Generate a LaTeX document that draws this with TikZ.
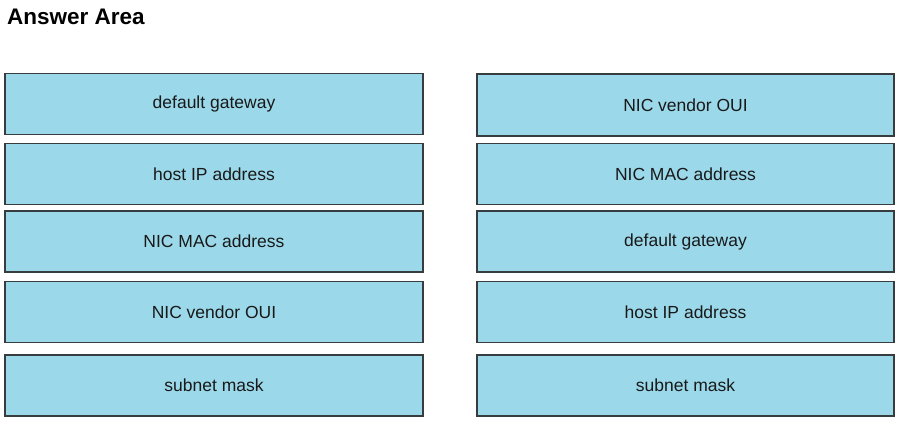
\documentclass[tikz,border=0pt]{standalone}
\usepackage{fontspec}
\setmainfont{Liberation Sans}
\usepackage{xcolor}
\definecolor{boxfill}{RGB}{155,217,234}
\definecolor{boxline}{RGB}{55,60,62}

\begin{document}
\begin{tikzpicture}[
    x=1pt, y=-1pt,
    answer/.style={draw=boxline, line width=1.2pt, fill=boxfill, minimum width=418pt, minimum height=61pt, inner sep=0pt, font=\fontsize{17.5}{20}\selectfont, text=black!90},
    title/.style={anchor=base west, inner sep=0pt, font=\bfseries\fontsize{22.5}{26}\selectfont}
  ]
  \useasboundingbox (0,0) rectangle (902,426);
  \node[title] (head) at (7,24) {Answer Area};
  % left column
  \node[answer] (l1) at (214,104) {default gateway};
  \node[answer] (l2) at (214,174) {host IP address};
  \node[answer] (l3) at (214,241.5) {NIC MAC address};
  \node[answer] (l4) at (214,312) {NIC vendor OUI};
  \node[answer] (l5) at (214,385.5) {subnet mask};
  % right column
  \node[answer, minimum width=417pt, minimum height=62pt] (r1) at (685.5,105) {NIC vendor OUI};
  \node[answer, minimum width=417pt] (r2) at (685.5,174) {NIC MAC address};
  \node[answer, minimum width=417pt] (r3) at (685.5,241.5) {default gateway};
  \node[answer, minimum width=417pt] (r4) at (685.5,312) {host IP address};
  \node[answer, minimum width=417pt] (r5) at (685.5,385.5) {subnet mask};
\end{tikzpicture}
\end{document}
